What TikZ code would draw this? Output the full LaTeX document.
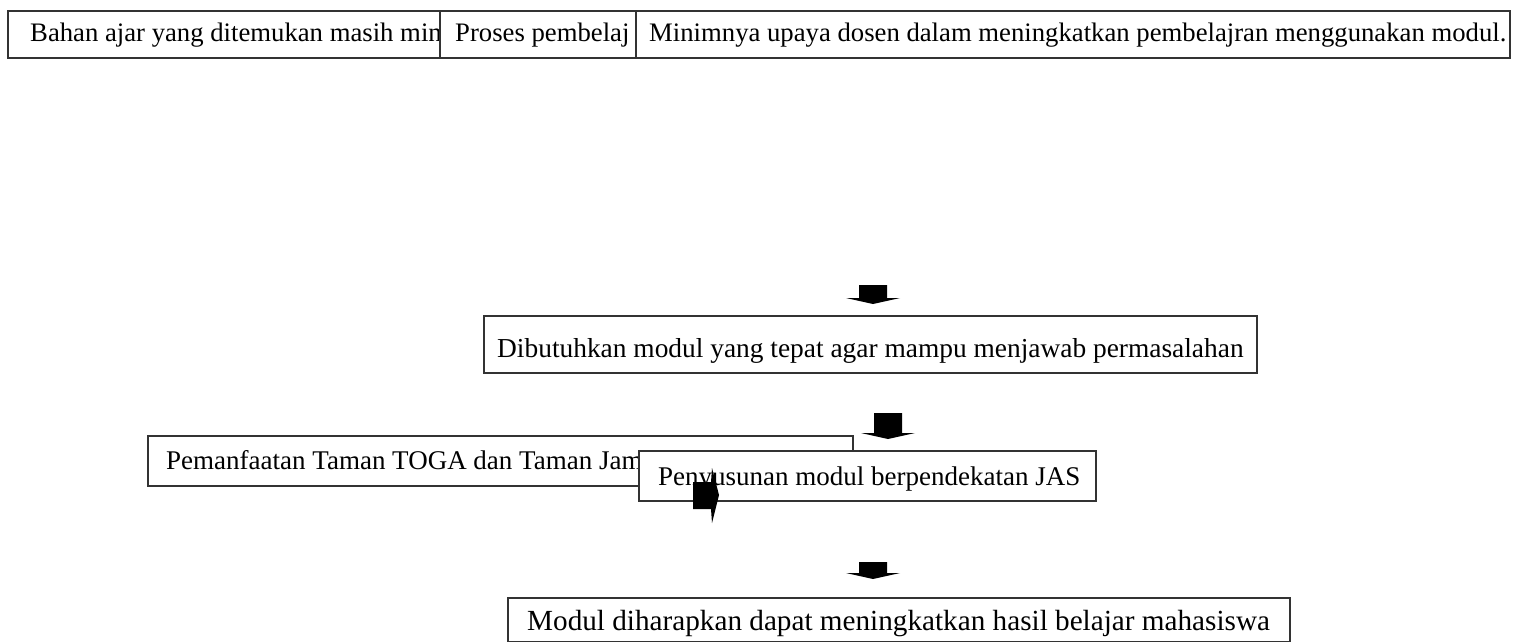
\documentclass[tikz,border=0pt]{standalone}
\usepackage{fontspec}
\setmainfont{Liberation Serif}
\begin{document}
\begin{tikzpicture}[x=1pt,y=-1pt,
  boxline/.style={draw=black!80,line width=1.1pt,fill=white},
  txt/.style={anchor=base west,inner sep=0pt,font=\fontsize{27}{30}\selectfont},
  txttop/.style={anchor=base west,inner sep=0pt,font=\fontsize{26.7}{30}\selectfont},
  blk/.style={fill=black,draw=none}]
\useasboundingbox (0,0) rectangle (1517,642);
% top row
\draw[boxline] (8,11) rectangle (440,58);
\node[txttop] (t1) at (30,42) {Bahan ajar yang ditemukan masih min};
\draw[boxline] (440,11) rectangle (636,58);
\node[txttop] (t2) at (455,42) {Proses pembelaj};
\draw[boxline] (636,11) rectangle (1510,58);
\node[txttop] (t3) at (649,42) {Minimnya upaya dosen dalam meningkatkan pembelajran menggunakan modul.};
% arrow 1
\fill[blk] (859,285) -- (887,285) -- (887,298) -- (900,298) -- (873,304) -- (846,298) -- (859,298) -- cycle;
% box 2
\draw[boxline] (484,316) rectangle (1257,373);
\node[txt,font=\fontsize{27.4}{30}\selectfont] (t4) at (497,357) {Dibutuhkan modul yang tepat agar mampu menjawab permasalahan};
% arrow 2
\fill[blk] (874,413) -- (902,413) -- (902,433) -- (915,433) -- (888,439) -- (861,433) -- (874,433) -- cycle;
% Pemanfaatan
\draw[boxline] (148,436) rectangle (853,486);
\node[txt] (t5) at (166,469) {Pemanfaatan Taman TOGA dan Taman Jam};
% Penyusunan
\draw[boxline] (639,451) rectangle (1096,501);
\node[txt] (t6) at (658,485) {Penyusunan modul berpendekatan JAS};
% small right arrow
\fill[blk] (693,482) -- (711,482) -- (712,468) -- (719,495) -- (712,523) -- (711,509) -- (693,509) -- cycle;
% arrow 3
\fill[blk] (859,562) -- (887,562) -- (887,573) -- (900,573) -- (873,579) -- (846,573) -- (859,573) -- cycle;
% final box
\draw[boxline] (508,598) rectangle (1290,642);
\node[txt,font=\fontsize{29.2}{32}\selectfont] (t7) at (527,630) {Modul diharapkan dapat meningkatkan hasil belajar mahasiswa};
\end{tikzpicture}
\end{document}
